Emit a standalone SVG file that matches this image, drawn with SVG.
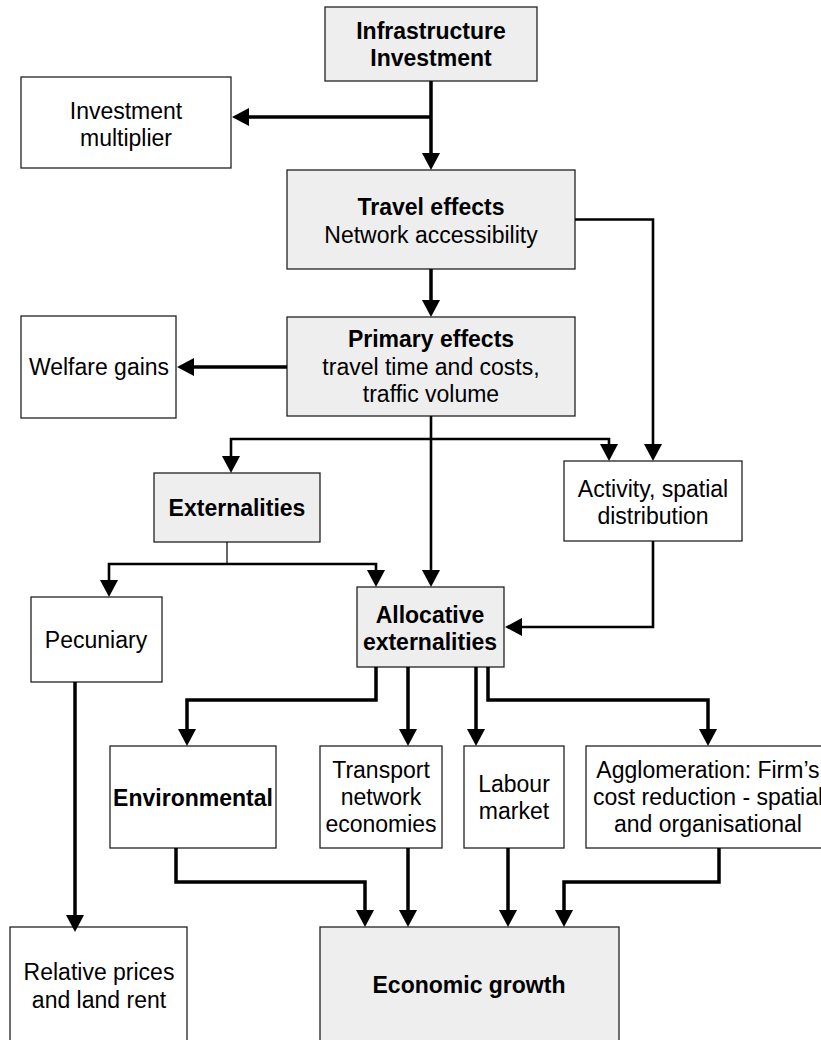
<svg xmlns="http://www.w3.org/2000/svg" width="821" height="1040" viewBox="0 0 821 1040">
<defs>
<style>
.box{stroke:#222;stroke-width:1.3}
.g{fill:#eeeeee}
.w{fill:#ffffff}
text{font-family:"Liberation Sans",Arial,sans-serif;font-size:23px;fill:#000;text-anchor:middle}
.b{font-weight:bold}
.c{fill:none;stroke:#000;stroke-width:3.5}
.m{fill:none;stroke:#000;stroke-width:2.6}
.t{fill:none;stroke:#000;stroke-width:1.2}
</style>
<marker id="ah" markerUnits="userSpaceOnUse" markerWidth="18" markerHeight="18" refX="9" refY="9" orient="auto" viewBox="0 0 18 18">
<path d="M0,0 L17,9 L0,18 z" fill="#000"/>
</marker>
</defs>
<rect width="821" height="1040" fill="#fff"/>
<g id="infrastructure">
<rect class="box g" x="325" y="7" width="212" height="74"/>
<text class="b" x="431" y="39">Infrastructure</text>
<text class="b" x="431" y="66">Investment</text>
</g>
<g id="multiplier">
<rect class="box w" x="21" y="77" width="210" height="91"/>
<text x="126" y="119">Investment</text>
<text x="126" y="146">multiplier</text>
</g>
<g id="travel">
<rect class="box g" x="287" y="170" width="288" height="99"/>
<text class="b" x="431" y="215">Travel effects</text>
<text x="431" y="243">Network accessibility</text>
</g>
<g id="primary">
<rect class="box g" x="287" y="317" width="288" height="99"/>
<text class="b" x="431" y="347">Primary effects</text>
<text x="431" y="375">travel time and costs,</text>
<text x="431" y="402">traffic volume</text>
</g>
<g id="welfare">
<rect class="box w" x="21" y="316" width="155" height="102"/>
<text x="99" y="375">Welfare gains</text>
</g>
<g id="externalities">
<rect class="box g" x="154" y="473" width="166" height="69"/>
<text class="b" x="237" y="516">Externalities</text>
</g>
<g id="activity">
<rect class="box w" x="564" y="461" width="178" height="80"/>
<text x="653" y="497">Activity, spatial</text>
<text x="653" y="524">distribution</text>
</g>
<g id="pecuniary">
<rect class="box w" x="31" y="597" width="131" height="85"/>
<text x="96" y="648">Pecuniary</text>
</g>
<g id="allocative">
<rect class="box g" x="357" y="587" width="147" height="80"/>
<text class="b" x="430" y="623">Allocative</text>
<text class="b" x="430" y="650">externalities</text>
</g>
<g id="environmental">
<rect class="box w" x="110" y="746" width="166" height="102"/>
<text class="b" x="193" y="806">Environmental</text>
</g>
<g id="transport">
<rect class="box w" x="320" y="746" width="122" height="102"/>
<text x="381" y="778">Transport</text>
<text x="381" y="805">network</text>
<text x="381" y="832">economies</text>
</g>
<g id="labour">
<rect class="box w" x="464" y="746" width="100" height="102"/>
<text x="514" y="792">Labour</text>
<text x="514" y="819">market</text>
</g>
<g id="agglomeration">
<rect class="box w" x="586" y="746" width="245" height="102"/>
<text x="708" y="778">Agglomeration: Firm’s</text>
<text x="708" y="805">cost reduction - spatial</text>
<text x="708" y="832">and organisational</text>
</g>
<g id="relative">
<rect class="box w" x="10" y="927" width="177" height="120"/>
<text x="99" y="980">Relative prices</text>
<text x="99" y="1008">and land rent</text>
</g>
<g id="growth">
<rect class="box g" x="320" y="927" width="299" height="120"/>
<text class="b" x="469" y="993">Economic growth</text>
</g>
<g id="connectors">
<path class="c" d="M431,81 V162" marker-end="url(#ah)"/>
<path class="c" d="M431,117 H240" marker-end="url(#ah)"/>
<path class="c" d="M431,269 V309" marker-end="url(#ah)"/>
<path class="m" d="M575,219.5 H653 V453" marker-end="url(#ah)"/>
<path class="c" d="M287,367 H185" marker-end="url(#ah)"/>
<path class="m" d="M431,416 V579" marker-end="url(#ah)"/>
<path class="m" d="M431,439 H231 V465" marker-end="url(#ah)"/>
<path class="m" d="M431,439 H609 V453" marker-end="url(#ah)"/>
<path class="t" d="M227,542 V564"/>
<path class="m" d="M227,564 H109 V589" marker-end="url(#ah)"/>
<path class="m" d="M227,564 H376 V579" marker-end="url(#ah)"/>
<path class="m" d="M653,541 V627 H513" marker-end="url(#ah)"/>
<path class="c" d="M75,682 V924" marker-end="url(#ah)"/>
<path class="c" d="M376,667 V700 H187 V738" marker-end="url(#ah)"/>
<path class="c" d="M408,667 V738" marker-end="url(#ah)"/>
<path class="c" d="M476,667 V738" marker-end="url(#ah)"/>
<path class="c" d="M488,667 V700 H708 V738" marker-end="url(#ah)"/>
<path class="c" d="M176,848 V882 H365 V919" marker-end="url(#ah)"/>
<path class="c" d="M408,848 V919" marker-end="url(#ah)"/>
<path class="c" d="M508,848 V919" marker-end="url(#ah)"/>
<path class="c" d="M719,848 V882 H564 V919" marker-end="url(#ah)"/>
</g>
</svg>
